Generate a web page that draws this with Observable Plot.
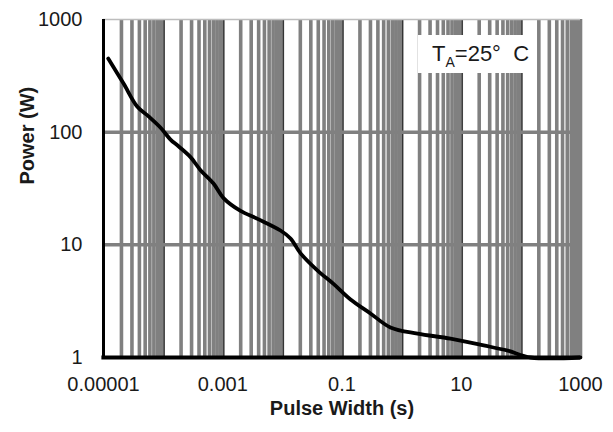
<!DOCTYPE html>
<html>
<head>
<meta charset="utf-8">
<script src="https://cdn.jsdelivr.net/npm/d3@7"></script>
<script src="https://cdn.jsdelivr.net/npm/@observablehq/plot@0.6"></script>
<style>
  html, body { margin: 0; padding: 0; background: #fff; }
  #wrap { position: relative; width: 613px; height: 432px; }
  #legend {
    position: absolute; left: 418px; top: 35px; width: 117px; height: 38px;
    background: #fff; font-family: "Liberation Sans", Arial, sans-serif;
    font-size: 22px; color: #1a1a1a; box-sizing: border-box;
    padding-left: 14px; line-height: 38px; white-space: pre;
  }
  #legend sub { font-size: 14px; vertical-align: -6px; line-height: 0; }
</style>
</head>
<body>
<div id="wrap"></div>
<script>
// Curve (pulse width in s, power in W)
const pulseWidth = [1.2e-5, 2.17e-5, 3.7e-5, 5.7e-5, 9.0e-5, 1.33e-4, 1.81e-4, 2.88e-4, 4.24e-4, 7.0e-4, 1.03e-3, 1.99e-3, 3.84e-3, 9.3e-3, 0.0137, 0.0202, 0.039, 0.072, 0.139, 0.30, 0.65, 1.85, 6.6, 23.8, 60, 146, 1000];
const power      = [450, 270, 168, 138, 110, 86, 75, 60, 46, 35, 26, 20, 17, 13.4, 11.4, 8.4, 5.9, 4.5, 3.27, 2.46, 1.85, 1.63, 1.47, 1.28, 1.15, 1.0, 1.0];

const xTicks = [1e-5, 1e-3, 1e-1, 10, 1000];
const xTickLabels = ["0.00001", "0.001", "0.1", "10", "1000"];
const yTicks = [1, 10, 100, 1000];
const yTickLabels = ["1", "10", "100", "1000"];
const decades = [1e-5, 1e-4, 1e-3, 1e-2, 1e-1, 1, 10, 100, 1000];
const minorSteps = [2, 3, 4, 5, 6, 7, 8, 9];
const yGrid = [10, 100];

const xTitle = "Pulse Width (s)";
const yTitle = "Power (W)";

const minorX = decades.slice(0, -1).flatMap(d => minorSteps.map(m => m * d));
const data = pulseWidth.map((x, i) => ({x, y: power[i]}));

const chart = Plot.plot({
  width: 613,
  height: 432,
  marginLeft: 103,
  marginRight: 33,
  marginTop: 19,
  marginBottom: 75,
  style: {background: "#fff", fontFamily: "'Liberation Sans', Arial, sans-serif", fontSize: "20px", color: "#1a1a1a"},
  x: {type: "log", domain: [1e-5, 1000]},
  y: {type: "log", domain: [1, 1000]},
  marks: [
    Plot.ruleX(minorX, {stroke: "#808080", strokeWidth: 3.6}),
    Plot.ruleX(decades.slice(1), {stroke: "#808080", strokeWidth: 3.6}),
    Plot.ruleX(decades.slice(1, -1), {stroke: "#333", strokeWidth: 1.2, dx: 1}),
    Plot.ruleY(yGrid, {stroke: "#808080", strokeWidth: 3.5}),
    Plot.ruleY([1000], {stroke: "#bdbdbd", strokeWidth: 1.5}),
    Plot.line(data, {x: "x", y: "y", stroke: "#000", strokeWidth: 3.8, curve: "catmull-rom"}),
    Plot.ruleX([1e-5], {stroke: "#000", strokeWidth: 3}),
    Plot.ruleY([1], {stroke: "#000", strokeWidth: 4, x1: 1e-5 * 0.94, x2: 1000}),
    Plot.axisX({ticks: xTicks, tickFormat: (d) => xTickLabels[xTicks.indexOf(d)], tickSize: 0, tickPadding: 19, label: null}),
    Plot.axisY({ticks: yTicks, tickFormat: (d) => yTickLabels[yTicks.indexOf(d)], tickSize: 0, tickPadding: 21, label: null}),
    Plot.text([xTitle], {frameAnchor: "bottom", dy: 57, fontWeight: "bold", fontSize: 20, fill: "#1a1a1a"}),
    Plot.text([yTitle], {frameAnchor: "left", dx: -76, dy: -4, rotate: -90, fontWeight: "bold", fontSize: 20, fill: "#1a1a1a"})
  ]
});

const wrap = document.getElementById("wrap");
wrap.appendChild(chart);
const legend = document.createElement("div");
legend.id = "legend";
legend.innerHTML = "T<sub>A</sub>=25°  C";
wrap.appendChild(legend);
</script>
</body>
</html>
